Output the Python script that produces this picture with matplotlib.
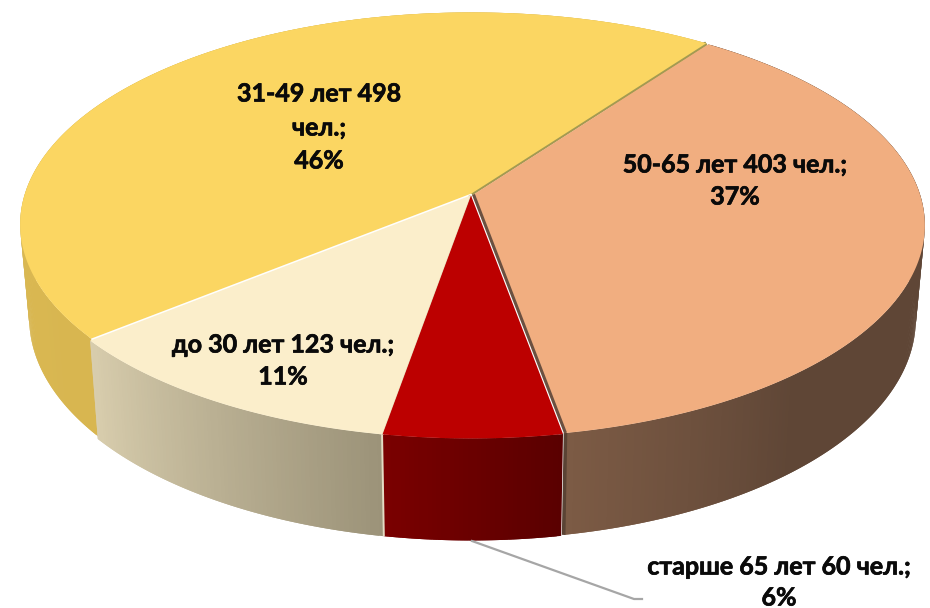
import numpy as np
import matplotlib
matplotlib.use("Agg")
import matplotlib.pyplot as plt
import matplotlib.patheffects as pe
from matplotlib.collections import PolyCollection
from matplotlib.colors import to_rgb
from matplotlib.patches import Polygon

# Data, clockwise from the yellow/orange border
categories = ["50-65 лет", "старше 65 лет", "до 30 лет", "31-49 лет"]
counts = [403, 60, 123, 498]
top_colors = ["#F1AE80", "#BC0000", "#FBEECB", "#FBD662"]
side_left = ["#7C5B45", "#7A0000", "#D8CDAD", "#DFBE5A"]
side_right = ["#5F4636", "#5A0000", "#9C9379", "#D8B650"]

total = sum(counts)
percents = [round(c / total * 100) for c in counts]

# Pie geometry in pixels
cx, cy = 472, 194
rx, ry = 446.5, 207.5
persp = 0.146
start = 54.0
offsets = [(1.5, 0.5), (-1.0, 1.5), (-1.5, 1.5), (-0.5, -0.5)]


def rim(theta, off, bottom=False):
    u = np.cos(np.radians(theta))
    v = np.sin(np.radians(theta))
    w = 1 + persp * v
    x = rx * u / w
    y = -ry * v / w
    if bottom:
        return cx + off[0] + 0.98 * x, cy + off[1] + y + 92 - 10 * v
    return cx + off[0] + x, cy + off[1] + y


fig = plt.figure(figsize=(9.3, 6.08), dpi=100)
ax = fig.add_axes([0, 0, 1, 1])
ax.set_xlim(0, 930)
ax.set_ylim(608, 0)
ax.axis("off")

# Split the values into angle ranges
spans = []
a = start
for c in counts:
    b = a - c / total * 360
    spans.append((a, b))
    a = b

# Side walls first, so that the top faces cover the hidden part
for i in [3, 2, 0, 1]:
    a, b = spans[i]
    angles = np.linspace(a, b, int(abs(a - b) * 2) + 2)
    n = len(angles)
    quads = []
    colors = []
    cl = np.array(to_rgb(side_left[i]))
    cr = np.array(to_rgb(side_right[i]))
    for j in range(n - 1):
        # each quad runs over the next one, that hides the seams
        t0, t1 = angles[j], angles[min(j + 2, n - 1)]
        quads.append([rim(t0, offsets[i]), rim(t1, offsets[i]),
                      rim(t1, offsets[i], True), rim(t0, offsets[i], True)])
        frac = j / (n - 2)
        if i == 0:
            # brown wall: lighter only near the red slice
            frac = max(0.0, 1 - (1 - frac) / 0.22)
        colors.append(cr + (cl - cr) * frac)
    ax.add_collection(PolyCollection(quads, facecolors=colors, edgecolors="none", linewidths=0))


def wall(i, theta, color, lw, z=2.5):
    p = rim(theta, offsets[i])
    ax.plot([cx + offsets[i][0], p[0]], [cy + offsets[i][1], p[1]], color=color, lw=lw,
            solid_capstyle="butt", zorder=z)


def post(i, theta, color, lw):
    p = rim(theta, offsets[i])
    q = rim(theta, offsets[i], True)
    ax.plot([p[0], q[0]], [p[1], q[1]], color=color, lw=lw, solid_capstyle="butt", zorder=2.5)


# Thin radial walls between the slices, under the top faces
wall(3, spans[3][1], "#A39A52", 2.6)
wall(3, spans[0][0], "#A39A52", 3.0)
wall(2, spans[2][0], "#DDD3B5", 2.4)
post(0, spans[0][1], "#5A4334", 2.6)
post(2, spans[2][0], "#E4DCC4", 1.4)

# Top faces
for i in [0, 1, 2, 3]:
    a, b = spans[i]
    angles = np.linspace(a, b, 200)
    pts = [(cx + offsets[i][0], cy + offsets[i][1])] + [rim(t, offsets[i]) for t in angles]
    ax.add_patch(Polygon(pts, closed=True, facecolor=top_colors[i], edgecolor="none", zorder=3))

# Brown wall of the orange slice shows beside the red one
wall(0, spans[0][1], "#6B5040", 2.2, z=4)

# Leader line of the small slice
ax.plot([472, 634, 642], [541, 599, 599], color="#A6A6A6", lw=1.6, zorder=2)

font = dict(family="Lato", fontweight="bold", fontsize=18, color="#0A0A0A",
            ha="center", va="center", zorder=5,
            path_effects=[pe.withStroke(linewidth=0.5, foreground="#0A0A0A")])
ax.text(319, 94, f"{categories[3]} {counts[3]}", **font)
ax.text(319, 128, "чел.;", **font)
ax.text(319, 161, f"{percents[3]}%", **font)
ax.text(735, 165, f"{categories[0]} {counts[0]} чел.;", **font)
ax.text(735, 197, f"{percents[0]}%", **font)
ax.text(283, 345, f"{categories[2]} {counts[2]} чел.;", **font)
ax.text(283, 377, f"{percents[2]}%", **font)
ax.text(779, 567, f"{categories[1]} {counts[1]} чел.;", **font)
ax.text(779, 598, f"{percents[1]}%", **font)

fig.savefig("out.png", dpi=100, facecolor="white")
